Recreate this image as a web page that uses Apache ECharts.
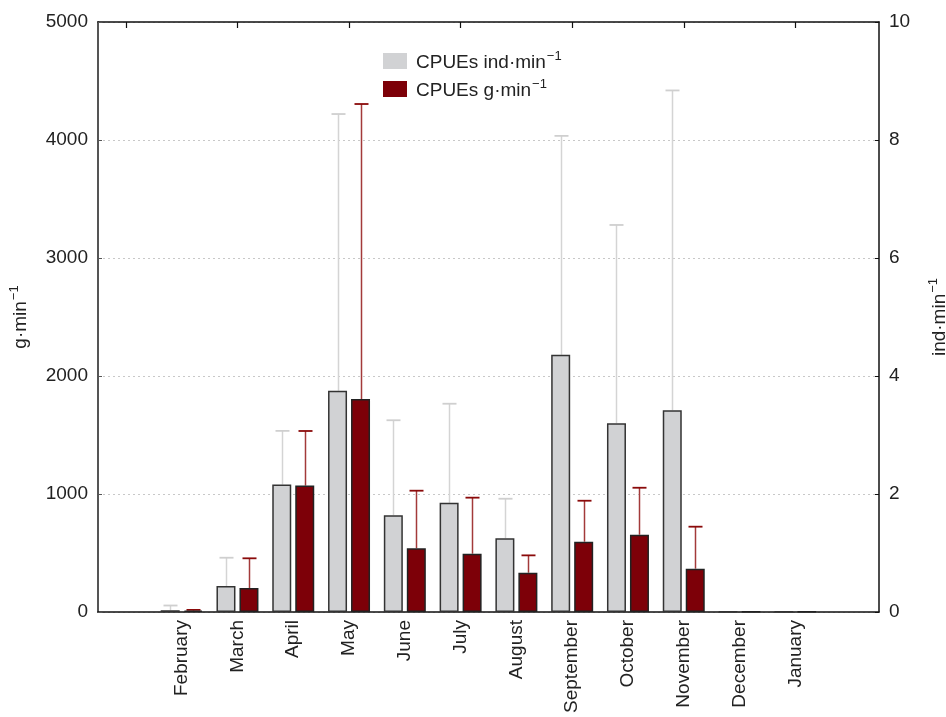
<!DOCTYPE html>
<html>
<head>
<meta charset="utf-8">
<script src="https://cdn.jsdelivr.net/npm/echarts@6/dist/echarts.min.js"></script>
<style>html,body{margin:0;padding:0;background:#fff}#c{width:946px;height:717px}</style>
</head>
<body>
<div id="c"></div>
<script>
const months = ['February','March','April','May','June','July','August','September','October','November','December','January'];
const indMean = [0.03, 0.44, 2.16, 3.75, 1.64, 1.85, 1.25, 4.36, 3.20, 3.42, 0.005, 0.005];
const indSD   = [0.08, 0.48, 0.91, 4.69, 1.61, 1.68, 0.67, 3.71, 3.36, 5.42, 0, 0];
const gMean   = [12, 203, 1071, 1805, 540, 494, 333, 596, 655, 367, 3, 3];
const gSD     = [6, 252, 463, 2500, 488, 475, 147, 347, 398, 356, 0, 0];
const leftTicks = {min: 0, max: 5000, interval: 1000};
const rightTicks = {min: 0, max: 10, interval: 2};
const seriesNames = ['CPUEs ind\u00b7min\u207b\u00b9', 'CPUEs g\u00b7min\u207b\u00b9'];

const cats = [''].concat(months, ['']);
const pad = a => [null].concat(a, [null]);
const errData = (m, sd) => m.map((v, i) => sd[i] > 0 ? [i + 1, v, v + sd[i]] : null).filter(Boolean);

const FONT = 'Liberation Sans, Arial, sans-serif';
const supRich = {
  b: {fontSize: 19, color: '#222', fontFamily: FONT, lineHeight: 22, verticalAlign: 'bottom'},
  sup: {fontSize: 13, color: '#222', fontFamily: FONT, lineHeight: 22, verticalAlign: 'top', padding: [0, 0, 0, 1]}
};
const withSup = s => '{b|' + s.replace('\u207b\u00b9', '}{sup|\u2212' + '1}');

function errItem(offset, color, capColor) {
  return function (params, api) {
    const x = api.value(0), lo = api.value(1), hi = api.value(2);
    const p1 = api.coord([x, lo]);
    const p2 = api.coord([x, hi]);
    const cx = Math.round(p1[0] + offset) + 0.5;
    return {
      type: 'group',
      children: [
        {type: 'line', shape: {x1: cx, y1: p1[1], x2: cx, y2: p2[1]}, style: {stroke: color, lineWidth: 1.5}},
        {type: 'line', shape: {x1: cx - 7, y1: p2[1], x2: cx + 7, y2: p2[1]}, style: {stroke: capColor, lineWidth: 1.8}}
      ]
    };
  };
}

const chart = echarts.init(document.getElementById('c'), null, {renderer: 'canvas'});
chart.setOption({
  animation: false,
  backgroundColor: '#fff',
  textStyle: {fontFamily: FONT},
  grid: {left: 98, right: 67, top: 22, bottom: 105, containLabel: false, outerBoundsMode: 'none'},
  legend: {
    orient: 'vertical', left: 378, top: 45, itemWidth: 24, itemHeight: 16, itemGap: 6,
    icon: 'rect',
    formatter: name => withSup(name),
    textStyle: {fontSize: 19, color: '#222', fontFamily: FONT, padding: [0, 0, 0, 4], rich: supRich},
    data: [
      {name: seriesNames[0], itemStyle: {color: '#d1d2d4', borderWidth: 0}},
      {name: seriesNames[1], itemStyle: {color: '#7d0008', borderWidth: 0}}
    ]
  },
  xAxis: [
    {
      type: 'category', data: cats, position: 'bottom',
      axisLine: {onZero: false, lineStyle: {color: '#111', width: 1.5}},
      axisTick: {inside: true, alignWithLabel: true, length: 5, lineStyle: {color: '#111'}},
      axisLabel: {rotate: 90, fontSize: 19, color: '#222', margin: 8, interval: 0, fontFamily: FONT},
      splitLine: {show: false}
    },
    {
      type: 'category', data: cats, position: 'top',
      axisLine: {show: true, onZero: false, lineStyle: {color: '#111', width: 1.5}},
      axisTick: {show: true, inside: true, alignWithLabel: true, length: 6, lineStyle: {color: '#111', width: 1.2}},
      axisLabel: {show: false},
      splitLine: {show: false}
    }
  ],
  yAxis: [
    {
      type: 'value', position: 'left', min: leftTicks.min, max: leftTicks.max, interval: leftTicks.interval,
      name: withSup('g\u00b7min\u207b\u00b9'), nameLocation: 'middle', nameGap: 68, nameRotate: 90,
      nameTextStyle: {fontSize: 19, color: '#222', fontFamily: FONT, rich: supRich},
      axisLine: {show: true, onZero: false, lineStyle: {color: '#555', width: 2}},
      axisTick: {show: true, inside: true, length: 4, lineStyle: {color: '#555'}},
      axisLabel: {fontSize: 19, color: '#222', margin: 10, fontFamily: FONT, formatter: v => String(v)},
      splitLine: {show: true, lineStyle: {color: '#c8c8c8', type: [2, 3], width: 1}}
    },
    {
      type: 'value', position: 'right', min: rightTicks.min, max: rightTicks.max, interval: rightTicks.interval,
      name: withSup('ind\u00b7min\u207b\u00b9'), nameLocation: 'middle', nameGap: 48, nameRotate: 90,
      nameTextStyle: {fontSize: 19, color: '#222', fontFamily: FONT, rich: supRich},
      axisLine: {show: true, onZero: false, lineStyle: {color: '#111', width: 1.5}},
      axisTick: {show: true, inside: true, length: 4, lineStyle: {color: '#111'}},
      axisLabel: {fontSize: 19, color: '#222', margin: 10, fontFamily: FONT, formatter: v => String(v)},
      splitLine: {show: false}
    }
  ],
  series: [
    {
      name: seriesNames[0], type: 'bar', xAxisIndex: 0, yAxisIndex: 1,
      data: pad(indMean), barWidth: 19, barGap: '21%',
      itemStyle: {color: '#d1d2d4', borderColor: '#333', borderWidth: 1.5},
      z: 3
    },
    {
      name: seriesNames[1], type: 'bar', xAxisIndex: 0, yAxisIndex: 0,
      data: pad(gMean), barWidth: 19, barGap: '21%',
      itemStyle: {color: '#7d0008', borderColor: '#222', borderWidth: 1.5},
      z: 3
    },
    {
      name: 'errInd', type: 'custom', xAxisIndex: 0, yAxisIndex: 1,
      renderItem: errItem(-11.5, '#d4d4d4', '#cfcfcf'),
      encode: {x: 0, y: [1, 2]},
      data: errData(indMean, indSD), z: 2
    },
    {
      name: 'errG', type: 'custom', xAxisIndex: 0, yAxisIndex: 0,
      renderItem: errItem(11.5, '#a33a3a', '#8a0a0a'),
      encode: {x: 0, y: [1, 2]},
      data: errData(gMean, gSD), z: 2
    }
  ]
});
</script>
</body>
</html>
